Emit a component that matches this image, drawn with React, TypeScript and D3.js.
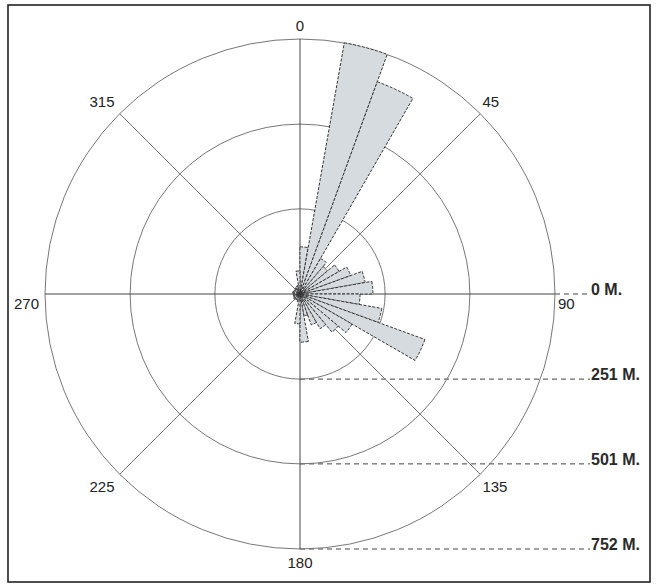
import React from "react";
import * as d3 from "d3";

// Rose diagram data: 36 bins of 10 degrees (bearing, clockwise from north)
const binStarts: number[] = d3.range(0, 360, 10);
const binValues: number[] = [
  139, 752, 666, 121, 106, 133, 159, 195, 215, 177, 245, 392,
  177, 147, 118, 97, 65, 142, 88, 24, 20, 18, 20, 22,
  18, 20, 18, 20, 22, 20, 18, 20, 22, 24, 26, 68,
];
const ringValues: number[] = [0, 251, 501, 752];
const ringLabels: string[] = ["0 M.", "251 M.", "501 M.", "752 M."];
const axisAngles: number[] = [0, 45, 90, 135, 180, 225, 270, 315];
const axisLabels: string[] = ["0", "45", "90", "135", "180", "225", "270", "315"];

const W = 656;
const H = 585;
const cx = 300;
const cy = 294;
const R = 255;

export default function App() {
  const r = d3.scaleLinear().domain([0, 752]).range([0, R]);
  const arc = d3.arc<any>();
  const rad = (deg: number) => (deg * Math.PI) / 180;
  const font = "'Liberation Sans', Arial, sans-serif";

  return (
    <svg
      width={W}
      height={H}
      style={{ position: "absolute", left: 0, top: 0, background: "#fff" }}
    >
      <rect x={8} y={5} width={642} height={577} fill="#fff" stroke="#222" strokeWidth={1.6} />
      {/* ring scale lines */}
      {ringValues.map((v, i) => (
        <line
          key={i}
          x1={v === 0 ? cx + R : cx}
          y1={cy + r(v)}
          x2={590}
          y2={cy + r(v)}
          stroke="#444"
          strokeWidth={1}
          strokeDasharray="5,4"
        />
      ))}
      {/* rings */}
      {ringValues.slice(1).map((v, i) => (
        <circle key={i} cx={cx} cy={cy} r={r(v)} fill="none" stroke="#777" strokeWidth={1} />
      ))}
      {/* radial axes */}
      {axisAngles.map((a, i) => (
        <line
          key={i}
          x1={cx}
          y1={cy}
          x2={cx + R * Math.sin(rad(a))}
          y2={cy - R * Math.cos(rad(a))}
          stroke={a % 90 === 0 ? "#444" : "#777"}
          strokeWidth={1}
        />
      ))}
      {/* petals */}
      <g transform={`translate(${cx},${cy})`}>
        {binStarts.map((s, i) => (
          <path
            key={i}
            d={
              arc({
                innerRadius: 0,
                outerRadius: r(binValues[i]),
                startAngle: rad(s),
                endAngle: rad(s + 10),
              }) as string
            }
            fill="#d6dbdf"
            stroke="#333"
            strokeWidth={1}
            strokeDasharray="3,1.5"
          />
        ))}
      </g>
      {/* ring labels */}
      {ringValues.map((v, i) => (
        <text
          key={i}
          x={591}
          y={cy + r(v) + 1}
          fontFamily={font}
          fontSize={16}
          fontWeight="bold"
          fill="#2a2a2a"
        >
          {ringLabels[i]}
        </text>
      ))}
      {/* angle labels */}
      {axisAngles.map((a, i) => {
        const s = Math.sin(rad(a));
        const c = Math.cos(rad(a));
        const x = cx + (R + 3) * s;
        const y = cy - (R + 3) * c;
        const anchor = s > 0.1 ? "start" : s < -0.1 ? "end" : "middle";
        const dy = c > 0.1 ? -5 : c < -0.1 ? 16 : 15;
        return (
          <text
            key={i}
            x={x + (s < -0.1 ? -3 : 0)}
            y={y + dy}
            textAnchor={anchor}
            fontFamily={font}
            fontSize={15}
            fill="#222"
          >
            {axisLabels[i]}
          </text>
        );
      })}
    </svg>
  );
}
